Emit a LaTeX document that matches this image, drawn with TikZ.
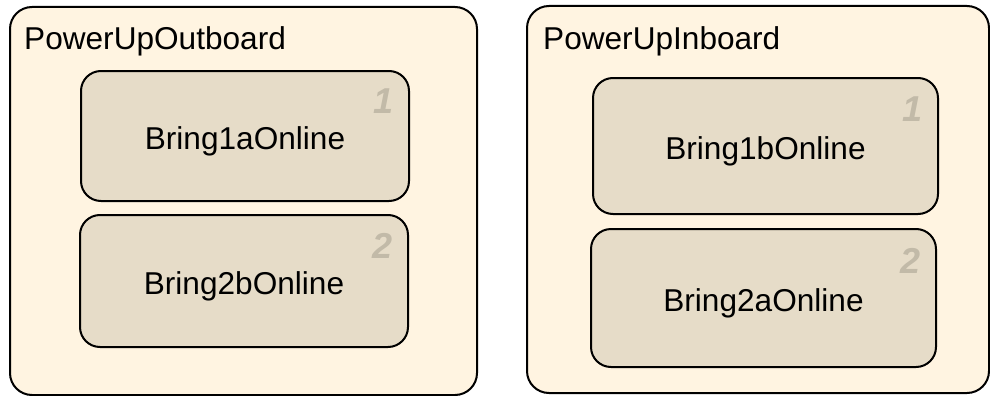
\documentclass[tikz,border=0pt]{standalone}
\usepackage{fontspec}
\setmainfont{Liberation Sans}
\definecolor{outerfill}{HTML}{FFF4E1}
\definecolor{innerfill}{HTML}{E6DCC8}
\definecolor{ordercol}{HTML}{C2BAA8}
\tikzset{
  region/.style={draw=black, line width=2pt, fill=outerfill, rounded corners=22pt},
  state/.style={draw=black, line width=2pt, fill=innerfill, rounded corners=20pt},
  regionlabel/.style={anchor=base west, inner sep=0pt, font=\fontsize{31.6}{32}\selectfont},
  statelabel/.style={inner sep=0pt, font=\fontsize{31.6}{32}\selectfont},
  ordermark/.style={anchor=base east, inner sep=0pt, text=ordercol, font=\fontsize{36}{36}\selectfont\bfseries\itshape}
}
\begin{document}
\begin{tikzpicture}[x=1pt, y=-1pt]
\useasboundingbox (0,0) rectangle (990,396);

% left composite state
\draw[region] (10,7) rectangle (477,395);
\node[regionlabel] (outlabel) at (24,49) {PowerUpOutboard};
\draw[state] (81,71) rectangle (409,201);
\node[statelabel] (s1a) at (245,141) {Bring1aOnline};
\node[ordermark] (n1a) at (394,113) {1};
\draw[state] (80,215) rectangle (408,347);
\node[statelabel] (s2b) at (244,286) {Bring2bOnline};
\node[ordermark] (n2b) at (393,258) {2};

% right composite state
\draw[region] (527,6) rectangle (989,393);
\node[regionlabel] (inlabel) at (543,50) {PowerUpInboard};
\draw[state] (593,78) rectangle (938,214);
\node[statelabel] (s1b) at (765.5,151) {Bring1bOnline};
\node[ordermark] (n1b) at (923,121) {1};
\draw[state] (591,229) rectangle (936,367);
\node[statelabel] (s2a) at (763.5,303) {Bring2aOnline};
\node[ordermark] (n2a) at (921,273) {2};
\end{tikzpicture}
\end{document}
